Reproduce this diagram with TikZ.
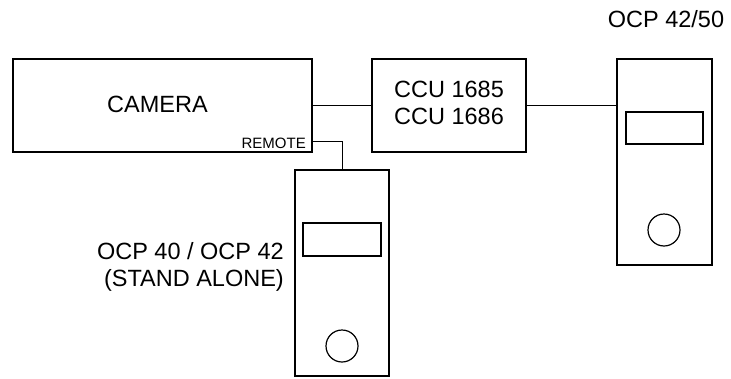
\documentclass[tikz,border=0pt]{standalone}
\usepackage{fontspec}
\setmainfont{Liberation Sans}
\usepackage{tikz}
\usetikzlibrary{positioning,calc}

\tikzset{
  unitbox/.style={draw,line width=1.8pt,inner sep=0pt},
  thinbox/.style={draw,line width=1.2pt,inner sep=0pt},
  knob/.style={draw,line width=1.2pt,circle,minimum size=32pt,inner sep=0pt},
  wire/.style={line width=1pt},
  lbl/.style={font=\fontsize{23.5}{27}\selectfont,inner sep=0pt}
}

\begin{document}
\begin{tikzpicture}[x=1pt,y=-1pt]
  \useasboundingbox (0,0) rectangle (731,378);
  % camera head
  \node[unitbox,minimum width=299pt,minimum height=93pt] (camera) at (162.5,105.5) {};
  \node[lbl] (camlbl) at (157.5,104) {CAMERA};
  \node[font=\fontsize{15}{17}\selectfont,anchor=base east,inner sep=0pt] (remlbl) at (306,148.5) {REMOTE};
  \coordinate (remote) at (312,141);
  % control unit
  \node[thinbox,minimum width=154pt,minimum height=93pt] (ccu) at (449,105.5) {};
  \node[lbl,align=center] (ccutxt) at (449,103) {CCU 1685\\CCU 1686};
  % panel on the ccu
  \node[unitbox,minimum width=95pt,minimum height=206pt] (ocpb) at (664.5,162) {};
  \node[unitbox,minimum width=77pt,minimum height=32pt] (ocpbwin) at (664.5,128) {};
  \node[knob] (ocpbknob) at (664,230) {};
  \node[lbl] (ocpblbl) at (666,19) {OCP 42/50};
  % stand alone panel
  \node[unitbox,minimum width=94pt,minimum height=206pt] (ocpa) at (342,273) {};
  \node[unitbox,minimum width=78pt,minimum height=33pt] (ocpawin) at (342,239.5) {};
  \node[knob] (ocpaknob) at (342,346) {};
  \node[lbl,align=right,anchor=east] (ocpalbl) at (284,266.5) {OCP 40 / OCP 42\\(STAND ALONE)};
  % cables
  \draw[wire] (camera.east) -- (camera.east -| ccu.west);
  \draw[wire] (camera.east -| ccu.east) -- (camera.east -| ocpb.west);
  \draw[wire] (remote) -| (ocpa.north);
\end{tikzpicture}
\end{document}
